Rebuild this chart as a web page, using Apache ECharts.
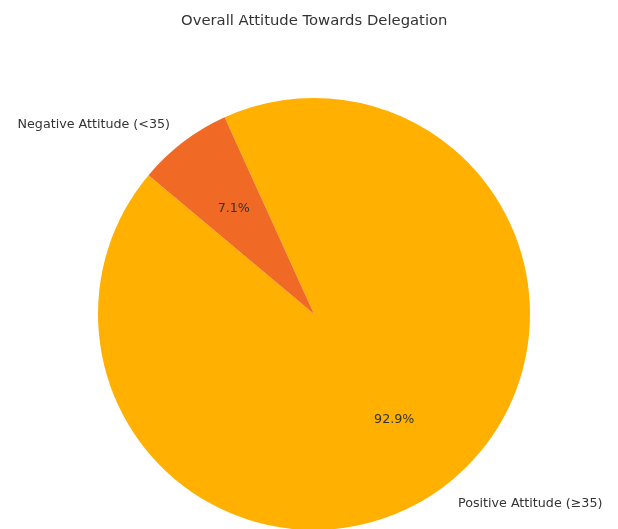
<!DOCTYPE html>
<html lang="en">
<head>
    <meta charset="UTF-8" />
    <title>Overall Attitude Towards Delegation</title>
    <script src="https://cdn.jsdelivr.net/npm/echarts@6/dist/echarts.min.js"></script>
    <style>
        html, body { margin: 0; padding: 0; background: #fff; }
    </style>
</head>
<body>
    <div id="chart" style="width: 618px; height: 529px"></div>
    <script>
        // data
        var categories = ["Positive Attitude (≥35)", "Negative Attitude (<35)"];
        var shares = [92.9, 7.1];
        var sliceColors = ["#FFB000", "#F06A26"];

        var cx = 314, cy = 314, R = 216;
        var font = "DejaVu Sans";

        var pieData = categories.map(function (name, i) {
            return { name: name, value: shares[i], itemStyle: { color: sliceColors[i] } };
        });

        var mCharts = echarts.init(document.getElementById("chart"));

        var option = {
            animation: false,
            title: {
                text: "Overall Attitude Towards Delegation",
                left: 176,
                top: 9,
                textStyle: { fontFamily: font, fontSize: 14.8, fontWeight: "normal", color: "#333" },
            },
            series: [
                {
                    // slices + outside names (at ~1.1R)
                    type: "pie",
                    center: [cx, cy],
                    radius: R,
                    startAngle: 140,
                    clockwise: false,
                    avoidLabelOverlap: false,
                    silent: true,
                    data: pieData,
                    label: {
                        show: true,
                        position: "outside",
                        formatter: "{b}",
                        fontFamily: font,
                        fontSize: 12.7,
                        color: "#333",
                    },
                    labelLine: { show: false, length: 22, length2: -5 },
                },
                {
                    // invisible copy, only for the percentages at 0.6R
                    type: "pie",
                    center: [cx, cy],
                    radius: R * 1.2,
                    startAngle: 140,
                    clockwise: false,
                    silent: true,
                    percentPrecision: 1,
                    data: pieData.map(function (d) {
                        return { name: d.name, value: d.value, itemStyle: { color: "rgba(0,0,0,0)" } };
                    }),
                    label: {
                        show: true,
                        position: "inside",
                        formatter: "{d}%",
                        fontFamily: font,
                        fontSize: 12.7,
                        color: "#333",
                    },
                    labelLine: { show: false },
                },
            ],
        };
        mCharts.setOption(option);
    </script>
</body>
</html>
